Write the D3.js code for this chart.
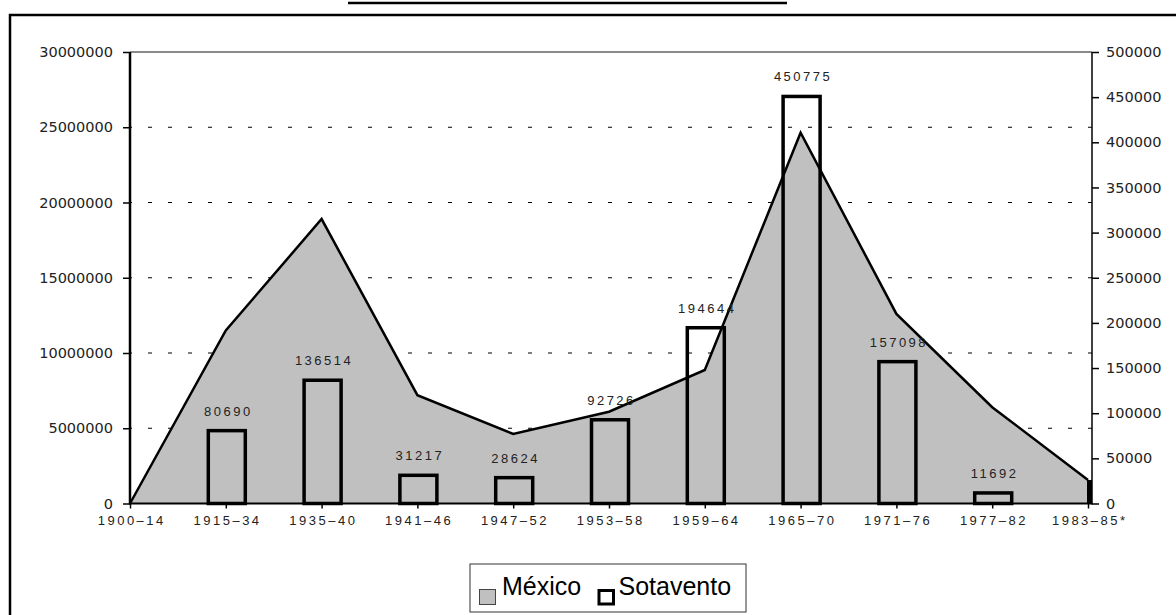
<!DOCTYPE html>
<html>
<head>
<meta charset="utf-8">
<script src="https://cdn.jsdelivr.net/npm/d3@7"></script>
<style>
  body { margin: 0; background: #fff; }
  svg { display: block; }
</style>
</head>
<body>
<svg id="chart" width="1176" height="615"></svg>
<script>
// México (left axis, area) vs Sotavento (right axis, bars)

const categories = ["1900–14", "1915–34", "1935–40", "1941–46", "1947–52", "1953–58",
  "1959–64", "1965–70", "1971–76", "1977–82", "1983–85*"];
const mexico = [0, 11500000, 18900000, 7200000, 4620000, 6100000,
  8870000, 24640000, 12600000, 6400000, 1560000];
const sotavento = [null, 80690, 136514, 31217, 28624, 92726,
  194644, 450775, 157098, 11692, null];
const leftTicks = [0, 5000000, 10000000, 15000000, 20000000, 25000000, 30000000];
const rightTicks = [0, 50000, 100000, 150000, 200000, 250000, 300000, 350000, 400000, 450000, 500000];

const plotLeft = 130;
const plotRight = 1092;
const plotTop = 52;
const plotBottom = 503.5;

const svg = d3.select("#chart");

const x = d3.scalePoint().domain(categories).range([plotLeft, 1088]);
const yLeft = d3.scaleLinear().domain([0, 30000000]).range([plotBottom, plotTop]);
const yRight = d3.scaleLinear().domain([0, 500000]).range([plotBottom, plotTop]);

// outer frame + title underline (title is cut off)
svg.append("rect")
  .attr("x", 10).attr("y", 15)
  .attr("width", 1200).attr("height", 640)
  .attr("fill", "none")
  .attr("stroke", "#000")
  .attr("stroke-width", 2.5);

svg.append("line")
  .attr("x1", 348).attr("x2", 787)
  .attr("y1", 3).attr("y2", 3)
  .attr("stroke", "#000")
  .attr("stroke-width", 2.5);

// gridlines
svg.append("g")
  .selectAll("line")
  .data(leftTicks.filter((d) => d > 0 && d < 30000000))
  .enter()
  .append("line")
  .attr("x1", plotLeft).attr("x2", plotRight)
  .attr("y1", (d) => yLeft(d)).attr("y2", (d) => yLeft(d))
  .attr("stroke", "#000")
  .attr("stroke-width", 1)
  .attr("stroke-dasharray", "4,16")
  .attr("stroke-dashoffset", -18);

// plot top border
svg.append("line")
  .attr("x1", plotLeft).attr("x2", plotRight)
  .attr("y1", plotTop).attr("y2", plotTop)
  .attr("stroke", "#8a8a8a")
  .attr("stroke-width", 2);

// México area
const area = d3.area()
  .x((d, i) => x(categories[i]))
  .y0(plotBottom)
  .y1((d) => yLeft(d));

svg.append("path")
  .datum(mexico)
  .attr("d", area)
  .attr("fill", "#c0c0c0");

// Sotavento bars
const barW = 37;
const bars = categories
  .map((c, i) => ({ cat: c, value: sotavento[i] }))
  .filter((d) => d.value !== null);

svg.append("g")
  .selectAll("rect")
  .data(bars)
  .enter()
  .append("rect")
  .attr("x", (d) => x(d.cat) + 1 - barW / 2)
  .attr("y", (d) => yRight(d.value))
  .attr("width", barW)
  .attr("height", (d) => plotBottom - yRight(d.value))
  .attr("fill", "none")
  .attr("stroke", "#000")
  .attr("stroke-width", 3.5);

// México line on top
const line = d3.line()
  .x((d, i) => x(categories[i]))
  .y((d) => yLeft(d));

svg.append("path")
  .datum(mexico)
  .attr("d", line)
  .attr("fill", "none")
  .attr("stroke", "#000")
  .attr("stroke-width", 2.5)
  .attr("stroke-linejoin", "miter");

// right edge of the area
const lastCat = categories[categories.length - 1];
svg.append("rect")
  .attr("x", x(lastCat) - 1)
  .attr("y", yLeft(mexico[mexico.length - 1]))
  .attr("width", plotRight - x(lastCat) + 1)
  .attr("height", plotBottom - yLeft(mexico[mexico.length - 1]))
  .attr("fill", "#000");

// data labels
svg.append("g")
  .selectAll("text")
  .data(bars)
  .enter()
  .append("text")
  .attr("x", (d) => x(d.cat) + 2.5)
  .attr("y", (d) => yRight(d.value) - 15)
  .attr("text-anchor", "middle")
  .style("font-family", "Liberation Sans, Arial, sans-serif")
  .style("font-size", "13px")
  .style("letter-spacing", "2.5px")
  .attr("fill", "#222")
  .text((d) => d.value);

// axes
const leftAxis = svg.append("g")
  .attr("transform", `translate(${plotLeft},0)`)
  .call(d3.axisLeft(yLeft).tickValues(leftTicks).tickFormat(d3.format("d"))
    .tickSize(7).tickPadding(10));

const rightAxis = svg.append("g")
  .attr("transform", `translate(${plotRight},0)`)
  .call(d3.axisRight(yRight).tickValues(rightTicks).tickFormat(d3.format("d"))
    .tickSize(7).tickPadding(7));

const bottomAxis = svg.append("g")
  .attr("transform", `translate(0,${plotBottom})`)
  .call(d3.axisBottom(x).tickSize(5).tickPadding(7));

[leftAxis, rightAxis].forEach((g) => {
  g.select(".domain").remove();
  g.selectAll("line").attr("stroke", "#000").attr("stroke-width", 1.5);
  g.selectAll("text")
    .style("font-family", "DejaVu Sans, sans-serif")
    .style("font-size", "14.5px")
    .attr("fill", "#222");
});

bottomAxis.select(".domain").remove();
bottomAxis.selectAll("line").attr("stroke", "#000").attr("stroke-width", 1.5);
bottomAxis.selectAll("text")
  .attr("dx", "1.25px")
  .style("font-family", "Liberation Sans, Arial, sans-serif")
  .style("font-size", "13px")
  .style("letter-spacing", "2.5px")
  .attr("fill", "#222");

svg.append("line")
  .attr("x1", plotLeft).attr("x2", plotLeft)
  .attr("y1", plotTop).attr("y2", plotBottom + 1)
  .attr("stroke", "#000").attr("stroke-width", 2.5);

svg.append("line")
  .attr("x1", plotRight).attr("x2", plotRight)
  .attr("y1", plotTop).attr("y2", plotBottom + 1)
  .attr("stroke", "#000").attr("stroke-width", 1.5);

svg.append("line")
  .attr("x1", plotLeft).attr("x2", plotRight)
  .attr("y1", plotBottom).attr("y2", plotBottom)
  .attr("stroke", "#000").attr("stroke-width", 2);

// legend
const legend = svg.append("g");
legend.append("rect")
  .attr("x", 470).attr("y", 564)
  .attr("width", 276).attr("height", 48)
  .attr("fill", "#fff")
  .attr("stroke", "#333").attr("stroke-width", 1);

legend.append("rect")
  .attr("x", 479.5).attr("y", 589.5)
  .attr("width", 16).attr("height", 15)
  .attr("fill", "#c0c0c0")
  .attr("stroke", "#444").attr("stroke-width", 1);

legend.append("text")
  .attr("x", 502).attr("y", 594.5)
  .style("font-family", "Liberation Sans, Arial, sans-serif")
  .style("font-size", "25px")
  .attr("fill", "#000")
  .text("México");

legend.append("rect")
  .attr("x", 599).attr("y", 590.5)
  .attr("width", 14.5).attr("height", 13.5)
  .attr("fill", "#fff")
  .attr("stroke", "#000").attr("stroke-width", 3);

legend.append("text")
  .attr("x", 618.5).attr("y", 594.5)
  .style("font-family", "Liberation Sans, Arial, sans-serif")
  .style("font-size", "25px")
  .attr("fill", "#000")
  .text("Sotavento");
</script>
</body>
</html>
